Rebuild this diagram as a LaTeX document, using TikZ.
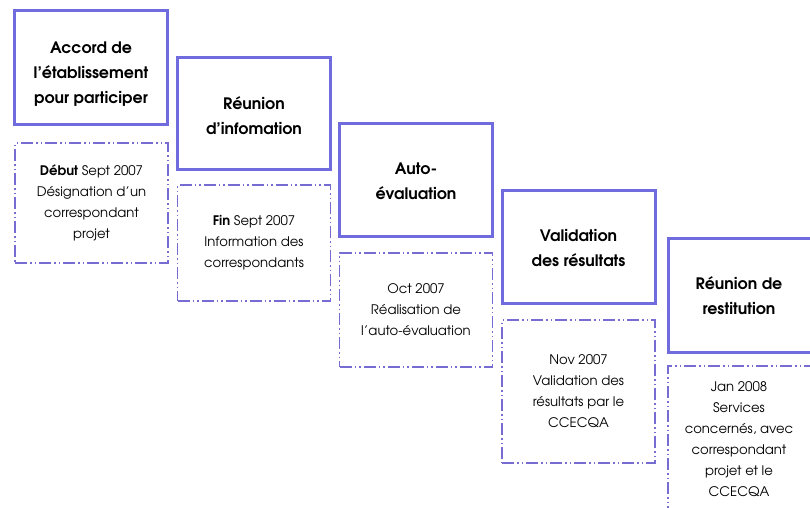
\documentclass[tikz,border=0pt]{standalone}
\usepackage{fontspec}
\setmainfont{TeX Gyre Adventor}
\definecolor{boxblue}{RGB}{112,108,222}
\definecolor{dashblue}{RGB}{118,108,210}
% #1 horizontal shift, #2 vertical shift, #3 lines
\newcommand\movedtext[3]{\raisebox{#2}[\height][\depth]{\hspace*{#1}\begin{tabular}{@{}c@{}}#3\end{tabular}\hspace*{-#1}}}
\begin{document}
\begin{tikzpicture}[x=1pt,y=-1pt,
  stage/.style={draw=boxblue, line width=3pt, minimum width=153pt, minimum height=113pt,
    inner sep=0pt, align=center, font=\fontsize{15.8}{25}\selectfont\bfseries},
  detail/.style={draw=dashblue, line width=1.3pt,
    dash pattern=on 12pt off 3pt on 1.5pt off 3pt on 1.5pt off 3pt,
    minimum width=153pt, inner sep=0pt, align=center, font=\fontsize{13.2}{21}\selectfont}]
\useasboundingbox (0,0) rectangle (810,507);
\clip (0,0) rectangle (810,507);
\fill[white] (0,0) rectangle (810,507);

\node[stage, minimum height=114pt] (s1) at (91,67) {\movedtext{0pt}{-6pt}{Accord de\\l’établissement\\pour participer}};
\node[detail, minimum height=120pt] (d1) at (91.5,203) {\textbf{Début} Sept 2007\\Désignation d’un\\correspondant\\projet};

\node[stage, minimum height=112pt] (s2) at (254,113) {\movedtext{0pt}{-4pt}{Réunion\\d’infomation}};
\node[detail, minimum height=116pt] (d2) at (254,243) {\textbf{Fin} Sept 2007\\Information des\\correspondants};

\node[stage] (s3) at (416,180) {\movedtext{0pt}{-1.5pt}{Auto-\\évaluation}};
\node[detail, minimum height=114pt] (d3) at (416,310) {Oct 2007\\Réalisation de\\l’auto-évaluation};

\node[stage] (s4) at (578.5,247) {\movedtext{0pt}{-2pt}{Validation\\des résultats}};
\node[detail, minimum height=143pt] (d4) at (578.5,391.5) {Nov 2007\\Validation des\\résultats par le\\CCECQA};

\node[stage, minimum width=156pt, minimum height=114pt] (s5) at (746,295) {\movedtext{-7pt}{-2pt}{Réunion de\\restitution}};
\node[detail, minimum width=156pt, minimum height=148pt] (d5) at (746,440) {\movedtext{-7pt}{0pt}{Jan 2008\\Services\\concernés, avec\\correspondant\\projet et le\\CCECQA}};
\end{tikzpicture}
\end{document}
